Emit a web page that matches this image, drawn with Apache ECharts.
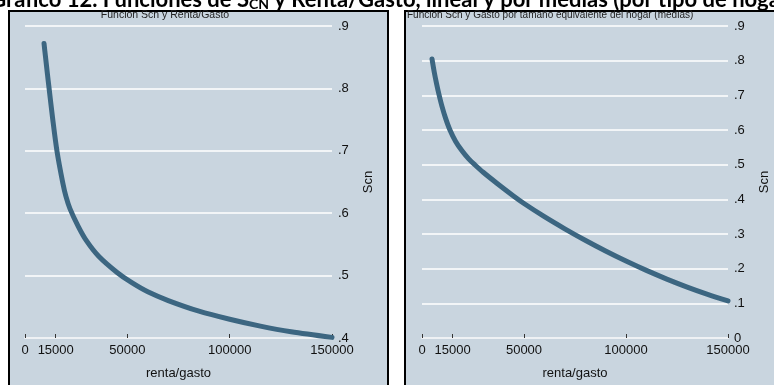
<!DOCTYPE html>
<html>
<head>
<meta charset="utf-8">
<script src="https://cdn.jsdelivr.net/npm/echarts@6/dist/echarts.min.js"></script>
<style>
  html, body { margin: 0; padding: 0; background: #ffffff; }
  #chart { width: 774px; height: 385px; }
</style>
</head>
<body>
<div id="chart"></div>
<script>
// Scn as a function of income/expenditure (individual households)
const rentaLineal = [9300, 10000, 11000, 11700, 13500, 15600, 18500, 20000, 22000, 26000, 30000, 36000, 45000, 52000, 60000, 70000, 85000, 100000, 115000, 130000, 150000];
const scnLineal   = [0.872, 0.851, 0.822, 0.802, 0.752, 0.700, 0.648, 0.627, 0.607, 0.579, 0.556, 0.531, 0.505, 0.489, 0.474, 0.460, 0.443, 0.430, 0.419, 0.410, 0.401];

// Scn by equivalent household size (means)
const gastoMedias = [4900, 6000, 7200, 8300, 9800, 11500, 13700, 16500, 19600, 23000, 26000, 30000, 37000, 45000, 50000, 60000, 70000, 80000, 90000, 100000, 110000, 120000, 130000, 140000, 150000];
const scnMedias   = [0.805, 0.767, 0.732, 0.703, 0.668, 0.635, 0.600, 0.567, 0.540, 0.516, 0.499, 0.478, 0.445, 0.409, 0.388, 0.350, 0.315, 0.282, 0.251, 0.222, 0.195, 0.170, 0.147, 0.126, 0.107];

// Axis ticks
const xTicks = [0, 15000, 50000, 100000, 150000];
const yTicksLeft = [0.4, 0.5, 0.6, 0.7, 0.8, 0.9];
const yTicksRight = [0, 0.1, 0.2, 0.3, 0.4, 0.5, 0.6, 0.7, 0.8, 0.9];

const panelBg = '#c9d5df';
const lineColor = '#3c6681';
const font = '"Liberation Sans", Arial, sans-serif';

function fmtY(v) {
  const r = Math.round(v * 10) / 10;
  if (r === 0) return '0';
  return String(r).replace(/^0/, '');
}

function xAxisCfg(gridIndex) {
  return {
    type: 'value', gridIndex, min: 0, max: 150000,
    name: 'renta/gasto', nameLocation: 'middle', nameGap: 29,
    nameTextStyle: { fontFamily: font, fontSize: 13, color: '#111' },
    axisLine: { show: true, lineStyle: { color: '#eef1f4', width: 2 } },
    axisTick: { show: true, inside: true, length: 4, customValues: xTicks, lineStyle: { color: '#333', width: 1 } },
    axisLabel: { customValues: xTicks, fontFamily: font, fontSize: 13, color: '#111', margin: 6,
                 formatter: v => String(Math.round(v)) },
    splitLine: { show: false }
  };
}

function yAxisCfg(gridIndex, min, ticks) {
  return {
    type: 'value', gridIndex, position: 'right', min: min, max: 0.9, interval: 0.1,
    name: 'Scn', nameLocation: 'middle', nameGap: 30, nameRotate: 90,
    nameTextStyle: { fontFamily: font, fontSize: 13, color: '#111' },
    axisLine: { show: false }, axisTick: { show: false },
    axisLabel: { fontFamily: font, fontSize: 13, color: '#111', margin: 6, formatter: fmtY, customValues: ticks },
    splitLine: { show: true, lineStyle: { color: '#ffffff', width: 1.5 } }
  };
}

const chart = echarts.init(document.getElementById('chart'), null, { renderer: 'canvas' });
chart.setOption({
  animation: false,
  backgroundColor: '#ffffff',
  graphic: [
    { type: 'rect', z: -10, shape: { x: 9, y: 11, width: 379, height: 400 }, style: { fill: panelBg, stroke: '#000', lineWidth: 2 } },
    { type: 'rect', z: -10, shape: { x: 405, y: 11, width: 400, height: 400 }, style: { fill: panelBg, stroke: '#000', lineWidth: 2 } },
    { type: 'text', z: 10, x: 392, y: 11, style: {
        text: 'Gráfico 12. Funciones de S{sub|CN} y Renta/Gasto, lineal y por medias (por tipo de hogar)',
        fontFamily: 'Lato, "Liberation Sans", sans-serif', fontWeight: 'bold', fontSize: 22,
        fill: '#000', align: 'center', verticalAlign: 'bottom',
        rich: { sub: { fontFamily: 'Lato, sans-serif', fontWeight: 'bold', fontSize: 14, padding: [9, 0, 0, 0] } }
    } },
    { type: 'text', x: 165, y: 15, style: { text: 'Función Scn y Renta/Gasto', fontFamily: font, fontSize: 10.5, fill: '#222', align: 'center', verticalAlign: 'middle' } },
    { type: 'text', x: 407, y: 15, style: { text: 'Función Scn y Gasto por tamaño equivalente del hogar (medias)', fontFamily: font, fontSize: 10, fill: '#222', align: 'left', verticalAlign: 'middle' } }
  ],
  grid: [
    { left: 25, right: 442, top: 26, bottom: 47 },
    { left: 422, right: 46, top: 26, bottom: 47 }
  ],
  xAxis: [xAxisCfg(0), xAxisCfg(1)],
  yAxis: [yAxisCfg(0, 0.4, yTicksLeft), yAxisCfg(1, 0, yTicksRight)],
  series: [
    {
      type: 'line', xAxisIndex: 0, yAxisIndex: 0, smooth: 0.3, showSymbol: false,
      lineStyle: { color: lineColor, width: 5, cap: 'round' },
      data: rentaLineal.map((x, i) => [x, scnLineal[i]])
    },
    {
      type: 'line', xAxisIndex: 1, yAxisIndex: 1, smooth: 0.3, showSymbol: false,
      lineStyle: { color: lineColor, width: 5, cap: 'round' },
      data: gastoMedias.map((x, i) => [x, scnMedias[i]])
    }
  ]
});
</script>
</body>
</html>
